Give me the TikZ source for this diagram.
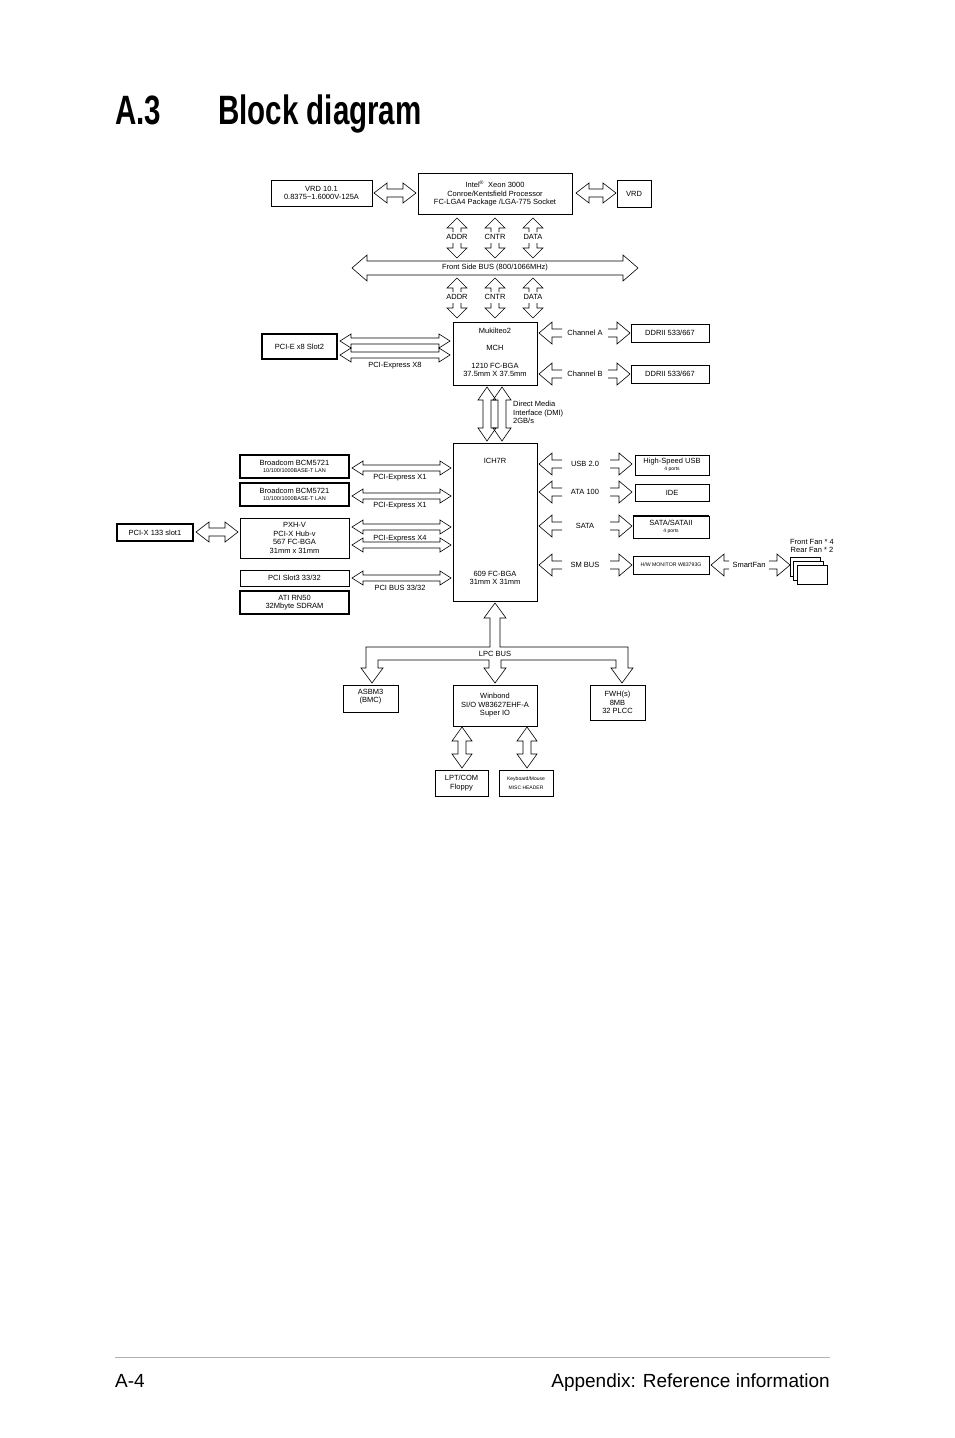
\documentclass[tikz,border=0pt]{standalone}
\usepackage{fontspec}
\setmainfont{Liberation Sans}
\usepackage{tikz}
\usetikzlibrary{calc}
% hollow arrows: #1,#2 ends, #3 position, #4 half shaft, #5 half head, #6 head length
\newcommand{\HArrow}[6]{\draw[arr] (#1,#3) -- (#1+#6,#3-#5) -- (#1+#6,#3-#4) -- (#2-#6,#3-#4) -- (#2-#6,#3-#5) -- (#2,#3) -- (#2-#6,#3+#5) -- (#2-#6,#3+#4) -- (#1+#6,#3+#4) -- (#1+#6,#3+#5) -- cycle}
\newcommand{\VArrow}[6]{\draw[arr] (#3,#1) -- (#3-#5,#1+#6) -- (#3-#4,#1+#6) -- (#3-#4,#2-#6) -- (#3-#5,#2-#6) -- (#3,#2) -- (#3+#5,#2-#6) -- (#3+#4,#2-#6) -- (#3+#4,#1+#6) -- (#3+#5,#1+#6) -- cycle}
% single heads: head at #1, open tail at #2
\newcommand{\HHead}[6]{\draw[arr] (#2,#3-#4) -- (#1+#6,#3-#4) -- (#1+#6,#3-#5) -- (#1,#3) -- (#1+#6,#3+#5) -- (#1+#6,#3+#4) -- (#2,#3+#4)}
\newcommand{\VHead}[6]{\draw[arr] (#3-#4,#2) -- (#3-#4,#1+#6) -- (#3-#5,#1+#6) -- (#3,#1) -- (#3+#5,#1+#6) -- (#3+#4,#1+#6) -- (#3+#4,#2)}
\begin{document}
\begin{tikzpicture}[x=1pt,y=-1pt,
  box/.style={draw,line width=0.7pt,inner sep=0pt,align=center,font=\fontsize{7.5}{8.5}\selectfont},
  thickbox/.style={box,line width=2pt},
  lbl/.style={inner sep=0pt,align=center,font=\fontsize{7.5}{8.5}\selectfont},
  tiny/.style={font=\fontsize{5}{5.5}\selectfont},
  arr/.style={line width=0.6pt}]
\useasboundingbox (0,0) rectangle (954,1438);

% title and footer
\node[anchor=base west,inner sep=0pt] (num) at (115,124) {\scalebox{0.72}[1]{\fontsize{41}{41}\selectfont\bfseries A.3}};
\node[anchor=base west,inner sep=0pt] (title) at (218,124) {\scalebox{0.72}[1]{\fontsize{41}{41}\selectfont\bfseries Block diagram}};
\draw[gray!60,line width=0.6pt] (115,1357) -- (830,1357);
\node[anchor=base west,inner sep=0pt] (page) at (115,1387) {\fontsize{19}{19}\selectfont A-4};
\node[anchor=base east,inner sep=0pt] (chap) at (830,1387) {\fontsize{19}{19}\selectfont Appendix: Reference information};

% CPU
\node[box,minimum width=154,minimum height=41] (cpu) at (495,193.5) {Intel\textsuperscript{\textregistered}\ \ Xeon 3000\\Conroe/Kentsfield Processor\\FC-LGA4 Package /LGA-775 Socket};
\node[box,minimum width=101,minimum height=26] (vrda) at (321.5,193) {VRD 10.1\\0.8375\textasciitilde1.6000V-125A};
\node[box,minimum width=34,minimum height=27] (vrdb) at (634,193.5) {VRD};
\HArrow{374}{416}{193}{4}{10}{13};
\HArrow{576}{616}{193}{4}{10}{13};

% front side bus
\foreach \x/\t in {457/ADDR,495/CNTR,533/DATA}{
  \VHead{218}{232}{\x}{4}{10}{10};
  \node[lbl] at (\x,237) {\t};
  \VHead{258}{243}{\x}{4}{10}{-10};
  \VHead{278}{292}{\x}{4}{10}{10};
  \node[lbl] at (\x,297) {\t};
  \VHead{318}{303}{\x}{4}{10}{-10};
}
\HArrow{352}{638}{268}{7}{13}{15};
\node[lbl] (fsb) at (495,268) {Front Side BUS (800/1066MHz)};

% MCH
\node[box,minimum width=84,minimum height=63,anchor=north west] (mch) at (453,322) {};
\node[lbl] at (495,331) {Mukilteo2};
\node[lbl] at (495,348) {MCH};
\node[lbl] at (495,370) {1210 FC-BGA\\37.5mm X 37.5mm};
\node[thickbox,minimum width=75,minimum height=25] (pcie) at (299.5,346.5) {PCI-E x8 Slot2};
\HArrow{340}{450}{341}{3}{7}{11};
\HArrow{340}{450}{355}{3}{7}{11};
\node[lbl] at (395,366) {PCI-Express X8};
\foreach \y/\t/\n in {333/Channel A/ddra,374/Channel B/ddrb}{
  \HHead{539}{562}{\y}{4}{11}{13};
  \node[lbl] at (585,\y) {\t};
  \HHead{630}{608}{\y}{4}{11}{-13};
  \node[box,minimum width=78,minimum height=18] (\n) at (670,\y) {DDRII 533/667};
}

% DMI
\VArrow{387}{441}{487}{4}{9}{13};
\VArrow{387}{441}{502}{4}{9}{13};
\node[lbl,anchor=north west,align=left] (dmi) at (513,401) {Direct Media\\Interface (DMI)\\2GB/s};

% ICH
\node[box,minimum width=84,minimum height=158,anchor=north west] (ich) at (453,443) {};
\node[lbl] at (495,461) {ICH7R};
\node[lbl] at (495,578) {609 FC-BGA\\31mm X 31mm};

% left side
\node[thickbox,minimum width=109,minimum height=23] (lana) at (294.5,466.5) {Broadcom BCM5721\\[-1pt]{\tiny\fontsize{5.5}{6}\selectfont 10/100/1000BASE-T LAN}};
\node[thickbox,minimum width=109,minimum height=23] (lanb) at (294.5,494.5) {Broadcom BCM5721\\[-1pt]{\fontsize{5.5}{6}\selectfont 10/100/1000BASE-T LAN}};
\HArrow{352}{451}{468}{3}{7}{11};
\node[lbl] at (400,478) {PCI-Express X1};
\HArrow{352}{451}{496}{3}{7}{11};
\node[lbl] at (400,506) {PCI-Express X1};
\node[box,minimum width=109,minimum height=40] (pxh) at (294.5,538) {PXH-V\\PCI-X Hub-v\\567 FC-BGA\\31mm x 31mm};
\HArrow{352}{451}{527}{3}{7}{11};
\HArrow{352}{451}{545}{3}{7}{11};
\node[lbl] at (400,539) {PCI-Express X4};
\node[thickbox,minimum width=76,minimum height=17] (pcix) at (155,532.5) {PCI-X 133 slot1};
\HArrow{196}{238}{532}{4}{10}{13};
\node[box,minimum width=109,minimum height=16] (pci3) at (294.5,578) {PCI Slot3 33/32};
\HArrow{352}{451}{578}{3}{7}{11};
\node[lbl] at (400,588) {PCI BUS 33/32};
\node[thickbox,minimum width=109,minimum height=23] (ati) at (294.5,602.5) {ATI RN50\\32Mbyte SDRAM};

% right side
\foreach \y/\t in {464/USB 2.0,492/ATA 100,526/SATA/SATAII,565/SM BUS}{
  \HHead{539}{562}{\y}{4}{11}{13};
  \node[lbl] at (585,\y) {\t};
  \HHead{632}{610}{\y}{4}{11}{-13};
}
\node[box,minimum width=74,minimum height=20] (usb) at (672,465) {High-Speed USB\\[-1pt]{\fontsize{5}{5.5}\selectfont 4 ports}};
\node[box,minimum width=74,minimum height=17] (ide) at (672,492.5) {IDE};
\node[box,minimum width=76,minimum height=22] (sata) at (671,527) {SATA/SATAII\\[-1pt]{\fontsize{5}{5.5}\selectfont 4 ports}};
\draw[line width=2pt] (sata.north west) -- (sata.north east);
\node[box,minimum width=76,minimum height=18] (hwm) at (671,565) {\fontsize{5.2}{6}\selectfont H/W MONITOR W83793G};
\HHead{711}{729}{565}{4}{11}{13};
\node[lbl] (sfan) at (749,565) {SmartFan};
\HHead{790}{769}{565}{4}{11}{-13};
\foreach \d in {0,3.5,7}
  \draw[fill=white,line width=0.7pt] (790+\d,557+4*\d/3.5) rectangle ++(30,19);
\node[lbl] (fans) at (812,546) {Front Fan * 4\\Rear Fan * 2};

% LPC bus
\draw[arr] (495,603) -- (506,618) -- (500,618) -- (500,647) -- (628,647) -- (628,668) -- (633,668) -- (622,683) -- (611,668) -- (616,668) -- (616,660) -- (501,660) -- (501,668) -- (506,668) -- (495,683) -- (484,668) -- (489,668) -- (489,660) -- (378,660) -- (378,668) -- (383,668) -- (372,683) -- (361,668) -- (366,668) -- (366,647) -- (490,647) -- (490,618) -- (484,618) -- cycle;
\node[lbl] (lpc) at (495,654) {LPC BUS};
\node[box,minimum width=55,minimum height=27,anchor=north west] (asb) at (343,685) {};
\node[lbl,anchor=north] at (370.5,689) {ASBM3\\(BMC)};
\node[box,minimum width=84,minimum height=41] (sio) at (495,705.5) {Winbond\\SI/O W83627EHF-A\\Super IO};
\node[box,minimum width=55,minimum height=35] (fwh) at (617.5,702.5) {FWH(s)\\8MB\\32 PLCC};
\VArrow{727}{768}{462}{4}{10}{14};
\VArrow{727}{768}{527}{4}{10}{14};
\node[box,minimum width=53,minimum height=26] (lpt) at (461.5,783) {LPT/COM\\Floppy};
\node[box,minimum width=54,minimum height=26] (kbd) at (526,783) {\fontsize{5}{5.5}\selectfont Keyboard/Mouse\\\fontsize{5}{5.5}\selectfont MISC HEADER};
\end{tikzpicture}
\end{document}
